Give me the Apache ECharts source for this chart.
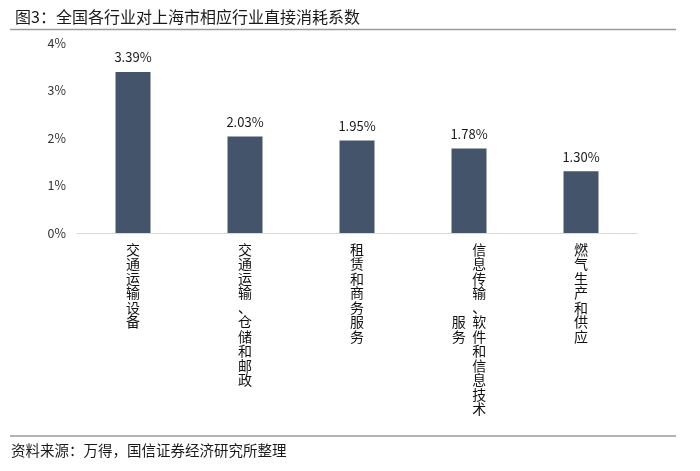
<!DOCTYPE html>
<html>
<head>
<meta charset="utf-8">
<script src="https://cdn.jsdelivr.net/npm/echarts@6/dist/echarts.min.js"></script>
<style>
html,body{margin:0;padding:0;background:#fff;}
#c{width:700px;height:471px;}
</style>
</head>
<body>
<div id="c"></div>
<script>
const titleText = '图3：全国各行业对上海市相应行业直接消耗系数';
const sourceText = '资料来源：万得，国信证券经济研究所整理';
const categories = ['交通运输设备', '交通运输、仓储和邮政', '租赁和商务服务', '信息传输、软件和信息技术服务', '燃气生产和供应'];
const values = [3.39, 2.03, 1.95, 1.78, 1.30];
const yTicks = [0, 1, 2, 3, 4];

const FONT = '"Noto Sans CJK SC", "Noto Sans", sans-serif';
const MAXROWS = 12;

function verticalLabel(name) {
  const chars = Array.from(name);
  if (chars.length <= MAXROWS) return chars.join('\n');
  const col1 = chars.slice(0, MAXROWS);
  const col2 = chars.slice(MAXROWS);
  const off = Math.floor((col1.length - col2.length) / 2);
  const lines = [];
  for (let i = 0; i < col1.length; i++) {
    const left = col2[i - off] || '\u3000';
    lines.push(left + '  ' + col1[i]);
  }
  return lines.join('\n');
}

const chart = echarts.init(document.getElementById('c'), null, {renderer: 'canvas'});
chart.setOption({
  animation: false,
  backgroundColor: '#ffffff',
  title: {
    text: titleText,
    left: 10, top: 4,
    textStyle: {fontFamily: FONT, fontSize: 16, fontWeight: 'normal', color: '#1a1a1a'}
  },
  graphic: [
    {type: 'line', shape: {x1: 10, y1: 29.5, x2: 676, y2: 29.5}, style: {stroke: '#9a9a9a', lineWidth: 1.5}},
    {type: 'line', shape: {x1: 10, y1: 436, x2: 676, y2: 436}, style: {stroke: '#9a9a9a', lineWidth: 1.5}},
    {type: 'text', left: 11, top: 443, style: {text: sourceText, font: '14.5px ' + FONT, fill: '#1a1a1a'}}
  ],
  grid: {left: 77, right: 63, top: 43, bottom: 238, containLabel: false},
  xAxis: {
    type: 'category',
    data: categories,
    axisLine: {show: true, lineStyle: {color: '#d9d9d9', width: 1}},
    axisTick: {show: false},
    axisLabel: {
      interval: 0,
      margin: 9,
      fontFamily: FONT,
      fontSize: 14,
      lineHeight: 14.5,
      color: '#111111',
      align: 'center',
      verticalAlign: 'top',
      formatter: verticalLabel
    }
  },
  yAxis: {
    type: 'value',
    min: yTicks[0],
    max: yTicks[yTicks.length - 1],
    interval: 1,
    splitLine: {show: false},
    axisLine: {show: false},
    axisTick: {show: false},
    axisLabel: {
      margin: 11,
      fontFamily: FONT,
      fontSize: 12.5,
      color: '#333333',
      formatter: v => v + '%'
    }
  },
  series: [{
    type: 'bar',
    data: values,
    barWidth: 35,
    itemStyle: {color: '#44546a'},
    label: {
      show: true,
      position: 'top',
      distance: 8,
      fontFamily: FONT,
      fontSize: 13,
      color: '#1a1a1a',
      formatter: p => p.value.toFixed(2) + '%'
    }
  }]
});
</script>
</body>
</html>
